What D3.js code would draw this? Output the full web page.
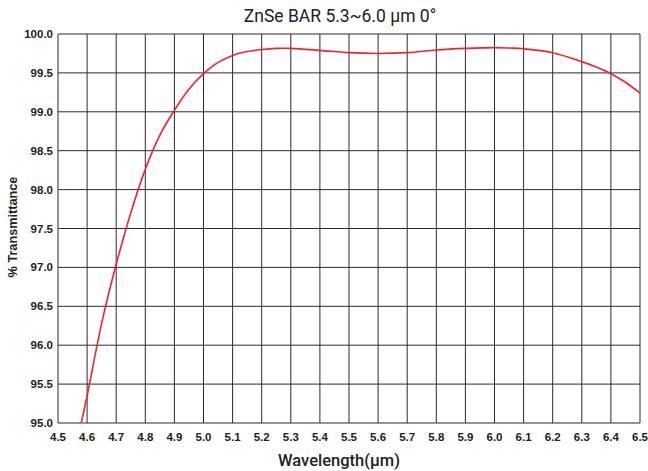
<!DOCTYPE html>
<html>
<head>
<meta charset="utf-8">
<script src="https://cdn.jsdelivr.net/npm/d3@7"></script>
<style>
  body { margin: 0; background: #fff; }
  svg { display: block; }
</style>
</head>
<body>
<svg id="chart" width="648" height="471"></svg>
<script>
// wavelength (um) and % transmittance
var wavelength = [4.58, 4.6, 4.65, 4.7, 4.75, 4.8, 4.85, 4.9, 4.95, 5.0, 5.05, 5.1, 5.15, 5.2, 5.25, 5.3, 5.4, 5.5, 5.6, 5.7, 5.8, 5.9, 6.0, 6.05, 6.1, 6.2, 6.3, 6.35, 6.4, 6.45, 6.5];
var transmittance = [95.0, 95.35, 96.28, 97.04, 97.70, 98.26, 98.70, 99.02, 99.29, 99.49, 99.635, 99.725, 99.775, 99.80, 99.815, 99.815, 99.79, 99.76, 99.75, 99.76, 99.795, 99.815, 99.825, 99.82, 99.81, 99.76, 99.645, 99.575, 99.49, 99.38, 99.24];
var xTicks = d3.range(0, 21).map(function (i) { return +(4.5 + i * 0.1).toFixed(1); });
var yTicks = d3.range(0, 11).map(function (i) { return +(95 + i * 0.5).toFixed(1); });

var svg = d3.select("#chart");
var plotL = 58, plotR = 640, plotT = 34, plotB = 423;

var x = d3.scaleLinear().domain([4.5, 6.5]).range([plotL, plotR]);
var y = d3.scaleLinear().domain([95, 100]).range([plotB, plotT]);

// grid
svg.append("g")
  .selectAll("line")
  .data(xTicks)
  .join("line")
  .attr("x1", function (d) { return x(d); })
  .attr("x2", function (d) { return x(d); })
  .attr("y1", plotT)
  .attr("y2", plotB)
  .attr("stroke", "#2a2a2a")
  .attr("stroke-width", 1);

svg.append("g")
  .selectAll("line")
  .data(yTicks)
  .join("line")
  .attr("x1", plotL)
  .attr("x2", plotR)
  .attr("y1", function (d) { return y(d); })
  .attr("y2", function (d) { return y(d); })
  .attr("stroke", "#2a2a2a")
  .attr("stroke-width", 1);

// tick labels
svg.append("g")
  .selectAll("text")
  .data(xTicks)
  .join("text")
  .attr("x", function (d) { return x(d); })
  .attr("y", 441)
  .attr("text-anchor", "middle")
  .style("font", "bold 11.5px 'Liberation Sans', Arial, sans-serif")
  .attr("fill", "#222")
  .text(function (d) { return d.toFixed(1); });

svg.append("g")
  .selectAll("text")
  .data(yTicks)
  .join("text")
  .attr("x", 53)
  .attr("y", function (d) { return y(d) + 4; })
  .attr("text-anchor", "end")
  .style("font", "bold 11.5px 'Liberation Sans', Arial, sans-serif")
  .attr("fill", "#222")
  .text(function (d) { return d.toFixed(1); });

// curve
var pts = wavelength.map(function (w, i) { return [w, transmittance[i]]; });
var line = d3.line()
  .x(function (d) { return x(d[0]); })
  .y(function (d) { return y(d[1]); })
  .curve(d3.curveCatmullRom.alpha(0.5));

svg.append("clipPath").attr("id", "clip")
  .append("rect").attr("x", plotL).attr("y", plotT)
  .attr("width", plotR - plotL).attr("height", plotB - plotT);

svg.append("path")
  .datum(pts)
  .attr("clip-path", "url(#clip)")
  .attr("fill", "none")
  .attr("stroke", "#f5222d")
  .attr("stroke-width", 1.6)
  .attr("d", line);

// titles
svg.append("text")
  .attr("x", 340)
  .attr("y", 22)
  .attr("text-anchor", "middle")
  .style("font", "17.5px Roboto, sans-serif")
  .attr("fill", "#222")
  .text("ZnSe BAR 5.3~6.0 µm 0°");

svg.append("text")
  .attr("x", 339)
  .attr("y", 466)
  .attr("text-anchor", "middle")
  .style("font", "500 16.5px Roboto, sans-serif")
  .attr("fill", "#222")
  .text("Wavelength(µm)");

svg.append("text")
  .attr("transform", "translate(17,227) rotate(-90)")
  .attr("text-anchor", "middle")
  .style("font", "bold 12.7px 'Liberation Sans', Arial, sans-serif")
  .attr("fill", "#222")
  .text("% Transmittance");
</script>
</body>
</html>
